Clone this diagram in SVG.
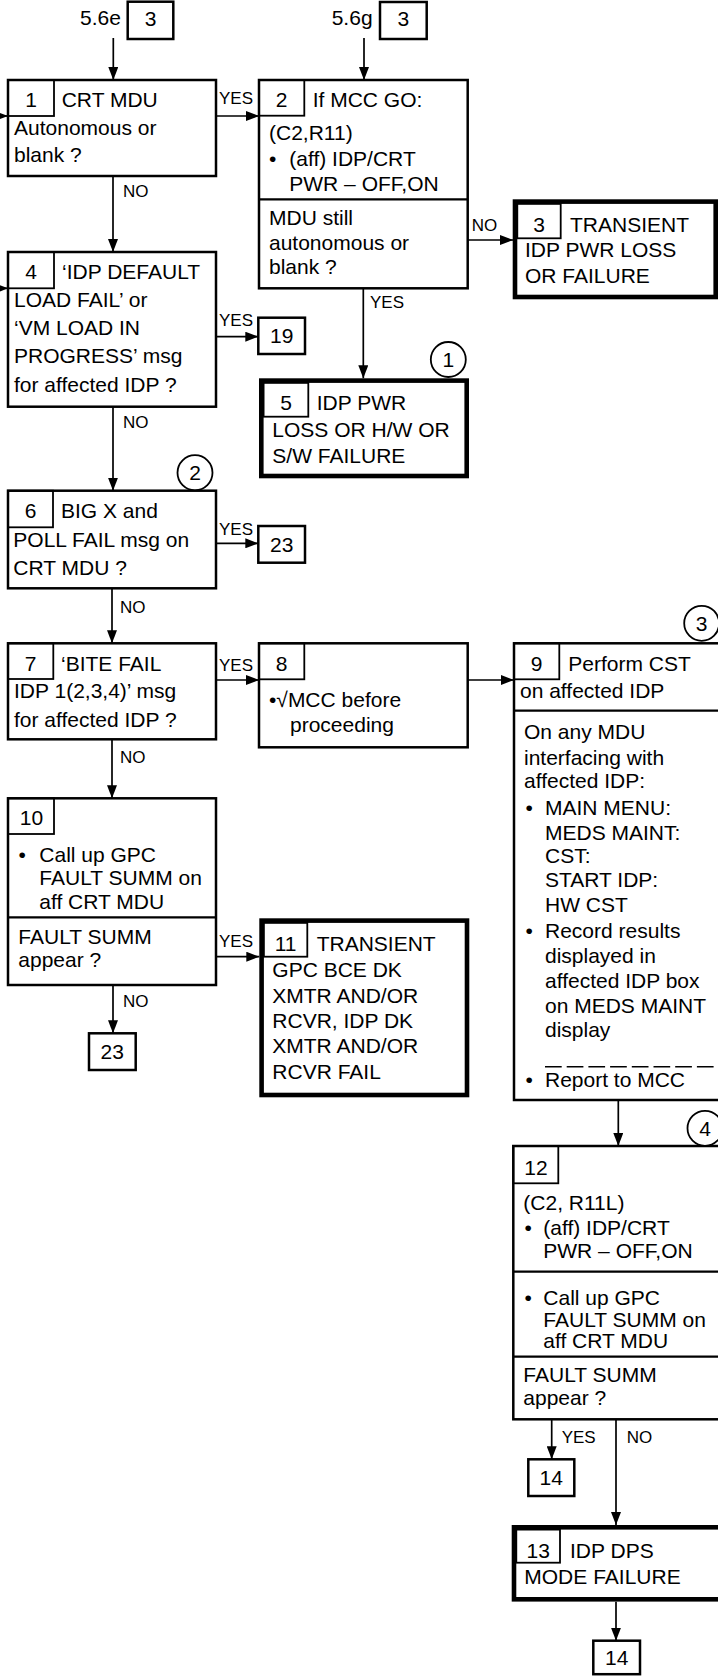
<svg xmlns="http://www.w3.org/2000/svg" width="718" height="1676" viewBox="0 0 718 1676">
<style>
.b{fill:#fff;stroke:#000;stroke-width:2.5}
.k{fill:#fff;stroke:#000;stroke-width:4.6}
.c{fill:none;stroke:#000;stroke-width:1.8}
.d{fill:none;stroke:#000;stroke-width:2.3}
.e{fill:none;stroke:#000;stroke-width:1.7}
.a{marker-end:url(#ah)}
text{font-family:"Liberation Sans",Arial,Helvetica,sans-serif;font-size:21px;fill:#000}
.l{font-size:17px}
.m{text-anchor:middle}
</style>
<defs>
<marker id="ah" markerUnits="userSpaceOnUse" markerWidth="13" markerHeight="10" refX="13" refY="5" orient="auto">
<path d="M0,0 L13,5 L0,10 Z" fill="#000"/>
</marker>
</defs>
<rect width="718" height="1676" fill="#fff"/>

<g id="connectors">
<path class="e a" d="M113.3,38 V80"/>
<path class="e a" d="M364,38 V80"/>
<path class="e a" d="M0,116 H8"/>
<path class="e a" d="M0,288.3 H8"/>
<path class="e a" d="M216,116 H259"/>
<path class="e a" d="M113,176 V252"/>
<path class="e a" d="M467.7,240 H513"/>
<path class="e a" d="M363.3,288.3 V378.3"/>
<path class="e a" d="M216,336.7 H258.3"/>
<path class="e a" d="M113,406.7 V490.7"/>
<path class="e a" d="M216,543.3 H258.3"/>
<path class="e a" d="M112,588.3 V643.3"/>
<path class="e a" d="M216,680 H259"/>
<path class="e a" d="M467.7,680 H514"/>
<path class="e a" d="M112,739.3 V798.3"/>
<path class="e a" d="M216,956.7 H259.3"/>
<path class="e a" d="M113,985 V1033.3"/>
<path class="e a" d="M618.3,1100 V1146"/>
<path class="e a" d="M551.7,1419.3 V1459.3"/>
<path class="e a" d="M616,1419.3 V1525"/>
<path class="e a" d="M616,1601.7 V1640.7"/>
<text class="l" x="219" y="104">YES</text>
<text class="l" x="123" y="197">NO</text>
<text class="l" x="471.7" y="230.7">NO</text>
<text class="l" x="370" y="308.3">YES</text>
<text class="l" x="219" y="326">YES</text>
<text class="l" x="123" y="428.3">NO</text>
<text class="l" x="219" y="535">YES</text>
<text class="l" x="120" y="612.7">NO</text>
<text class="l" x="219" y="670.7">YES</text>
<text class="l" x="120" y="762.7">NO</text>
<text class="l" x="219" y="946.7">YES</text>
<text class="l" x="123" y="1006.7">NO</text>
<text class="l" x="561.7" y="1443.3">YES</text>
<text class="l" x="626.7" y="1443.3">NO</text>
</g>

<g id="ref-5-6e">
<text x="80" y="25">5.6e</text>
<rect class="b" x="127.7" y="1.7" width="45.6" height="37.3"/>
<text class="m" x="150.5" y="26">3</text>
</g>
<g id="ref-5-6g">
<text x="331.7" y="25">5.6g</text>
<rect class="b" x="380" y="2" width="46.7" height="37"/>
<text class="m" x="403.3" y="26">3</text>
</g>

<g id="node1">
<rect class="b" x="8" y="80" width="208" height="96"/>
<rect class="c" x="8" y="80" width="46" height="36"/>
<text class="m" x="31" y="107.3">1</text>
<text x="61.7" y="107.3">CRT MDU</text>
<text x="14" y="135">Autonomous or</text>
<text x="14" y="162.3">blank ?</text>
</g>

<g id="node2">
<rect class="b" x="259" y="80" width="208.7" height="208.3"/>
<rect class="c" x="259" y="80" width="45.3" height="35.7"/>
<path class="d" d="M259,199.3 H467.7"/>
<text class="m" x="281.7" y="107.3">2</text>
<text x="312.7" y="107.3">If MCC GO:</text>
<text x="269" y="140">(C2,R11)</text>
<text x="269" y="166.3">•</text>
<text x="289.3" y="166.3">(aff) IDP/CRT</text>
<text x="289.3" y="191">PWR – OFF,ON</text>
<text x="269" y="224.5">MDU still</text>
<text x="269" y="250">autonomous or</text>
<text x="269" y="273.5">blank ?</text>
</g>

<g id="node3">
<rect class="k" x="515" y="201.6" width="200.7" height="95.4"/>
<rect class="c" x="517.3" y="203.9" width="43.4" height="34.4"/>
<text class="m" x="539" y="231.7">3</text>
<text x="570" y="231.7">TRANSIENT</text>
<text x="525" y="257.3">IDP PWR LOSS</text>
<text x="525" y="283.3">OR FAILURE</text>
</g>

<g id="node4">
<rect class="b" x="8" y="252" width="208" height="154.7"/>
<rect class="c" x="8" y="252" width="46" height="36.3"/>
<text class="m" x="31" y="279.3">4</text>
<text x="62" y="279.3">‘IDP DEFAULT</text>
<text x="14" y="307.3">LOAD FAIL’ or</text>
<text x="14" y="335">‘VM LOAD IN</text>
<text x="14" y="363.3">PROGRESS’ msg</text>
<text x="14" y="391.7">for affected IDP ?</text>
</g>

<g id="ref-19">
<rect class="b" x="258.3" y="317.7" width="46.7" height="36.3"/>
<text class="m" x="281.7" y="343">19</text>
</g>

<g id="node5">
<rect class="k" x="261.3" y="380.6" width="205.4" height="95.4"/>
<rect class="c" x="263.6" y="382.9" width="44.7" height="33.8"/>
<text class="m" x="286" y="410">5</text>
<text x="316.7" y="410">IDP PWR</text>
<text x="272.3" y="436.7">LOSS OR H/W OR</text>
<text x="272.3" y="462.7">S/W FAILURE</text>
</g>
<g id="circle1">
<circle cx="448.3" cy="359.5" r="17.5" fill="#fff" stroke="#000" stroke-width="1.8"/>
<text class="m" x="448.3" y="367">1</text>
</g>

<g id="node6">
<rect class="b" x="8" y="490.7" width="208" height="97.6"/>
<rect class="c" x="8" y="490.7" width="45" height="36.6"/>
<text class="m" x="30.5" y="518.3">6</text>
<text x="61" y="518.3">BIG X and</text>
<text x="13.3" y="546.7">POLL FAIL msg on</text>
<text x="13.3" y="575">CRT MDU ?</text>
</g>
<g id="circle2">
<circle cx="195" cy="472.7" r="17.5" fill="#fff" stroke="#000" stroke-width="1.8"/>
<text class="m" x="195" y="480.2">2</text>
</g>

<g id="ref-23a">
<rect class="b" x="258.3" y="526" width="46.7" height="36.7"/>
<text class="m" x="281.7" y="551.5">23</text>
</g>

<g id="node7">
<rect class="b" x="8" y="643.3" width="208" height="96"/>
<rect class="c" x="8" y="643.3" width="45.3" height="35.7"/>
<text class="m" x="30.7" y="670.7">7</text>
<text x="61" y="670.7">‘BITE FAIL</text>
<text x="14" y="698.3">IDP 1(2,3,4)’ msg</text>
<text x="14" y="726.7">for affected IDP ?</text>
</g>

<g id="node8">
<rect class="b" x="259" y="643.3" width="208.7" height="104"/>
<rect class="c" x="259" y="643.3" width="45.3" height="36"/>
<text class="m" x="281.7" y="670.7">8</text>
<text x="269" y="706.7">•√MCC before</text>
<text x="290" y="731.7">proceeding</text>
</g>

<g id="node9">
<rect class="b" x="514" y="643.3" width="260" height="456.7"/>
<rect class="c" x="514" y="643.3" width="45.3" height="36"/>
<path class="d" d="M514,710.7 H720"/>
<text class="m" x="536.7" y="670.7">9</text>
<text x="568.3" y="670.7">Perform CST</text>
<text x="520" y="698.3">on affected IDP</text>
<text x="524" y="739.3">On any MDU</text>
<text x="524" y="765">interfacing with</text>
<text x="524" y="788.3">affected IDP:</text>
<text x="525.6" y="815">•</text>
<text x="545" y="815">MAIN MENU:</text>
<text x="545" y="840">MEDS MAINT:</text>
<text x="545" y="863.3">CST:</text>
<text x="545" y="887">START IDP:</text>
<text x="545" y="912.3">HW CST</text>
<text x="525.6" y="938.3">•</text>
<text x="545" y="938.3">Record results</text>
<text x="545" y="963.3">displayed in</text>
<text x="545" y="988.3">affected IDP box</text>
<text x="545" y="1012.7">on MEDS MAINT</text>
<text x="545" y="1036.7">display</text>
<path d="M545,1066.7 H720" fill="none" stroke="#000" stroke-width="1.5" stroke-dasharray="16.7 5"/>
<text x="525.6" y="1086.7">•</text>
<text x="545" y="1086.7">Report to MCC</text>
</g>
<g id="circle3">
<circle cx="701.7" cy="623.3" r="17.5" fill="#fff" stroke="#000" stroke-width="1.8"/>
<text class="m" x="701.7" y="630.8">3</text>
</g>

<g id="node10">
<rect class="b" x="8" y="798.3" width="208" height="186.7"/>
<rect class="c" x="8" y="798.3" width="46" height="35.7"/>
<path class="d" d="M8,917.3 H216"/>
<text class="m" x="31.5" y="825">10</text>
<text x="18.6" y="861.7">•</text>
<text x="39.3" y="861.7">Call up GPC</text>
<text x="39.3" y="885">FAULT SUMM on</text>
<text x="39.3" y="909.3">aff CRT MDU</text>
<text x="18.3" y="944">FAULT SUMM</text>
<text x="18.3" y="966.7">appear ?</text>
</g>

<g id="node11">
<rect class="k" x="261.6" y="920.6" width="205.4" height="174.4"/>
<rect class="c" x="263.9" y="922.9" width="43.4" height="33.8"/>
<text class="m" x="285.6" y="950.7">11</text>
<text x="316.7" y="950.7">TRANSIENT</text>
<text x="272.3" y="976.7">GPC BCE DK</text>
<text x="272.3" y="1002.7">XMTR AND/OR</text>
<text x="272.3" y="1028.3">RCVR, IDP DK</text>
<text x="272.3" y="1053.3">XMTR AND/OR</text>
<text x="272.3" y="1079.3">RCVR FAIL</text>
</g>

<g id="ref-23b">
<rect class="b" x="89" y="1033.3" width="46.7" height="36.7"/>
<text class="m" x="112.3" y="1059">23</text>
</g>

<g id="node12">
<rect class="b" x="513.3" y="1146" width="260" height="273.3"/>
<rect class="c" x="513.3" y="1146" width="45" height="37.3"/>
<path class="d" d="M513.3,1271.7 H720"/>
<path class="d" d="M513.3,1356.7 H720"/>
<text class="m" x="536" y="1175">12</text>
<text x="523.3" y="1210">(C2, R11L)</text>
<text x="524.6" y="1235">•</text>
<text x="543.3" y="1235">(aff) IDP/CRT</text>
<text x="543.3" y="1258.3">PWR – OFF,ON</text>
<text x="524.6" y="1305">•</text>
<text x="543.3" y="1305">Call up GPC</text>
<text x="543.3" y="1326.7">FAULT SUMM on</text>
<text x="543.3" y="1348.3">aff CRT MDU</text>
<text x="523.3" y="1381.7">FAULT SUMM</text>
<text x="523.3" y="1405">appear ?</text>
</g>
<g id="circle4">
<circle cx="705" cy="1128.3" r="17.5" fill="#fff" stroke="#000" stroke-width="1.8"/>
<text class="m" x="705" y="1135.8">4</text>
</g>

<g id="ref-14a">
<rect class="b" x="528.3" y="1459.3" width="46" height="36.7"/>
<text class="m" x="551.3" y="1485">14</text>
</g>

<g id="node13">
<rect class="k" x="514" y="1527.3" width="260" height="72"/>
<rect class="c" x="516.3" y="1529.6" width="43.7" height="33.1"/>
<text class="m" x="538.3" y="1558.3">13</text>
<text x="570" y="1558.3">IDP DPS</text>
<text x="524.3" y="1584">MODE FAILURE</text>
</g>

<g id="ref-14b">
<rect class="b" x="593.3" y="1640.7" width="46.7" height="33.5"/>
<text class="m" x="616.7" y="1665">14</text>
</g>
</svg>
